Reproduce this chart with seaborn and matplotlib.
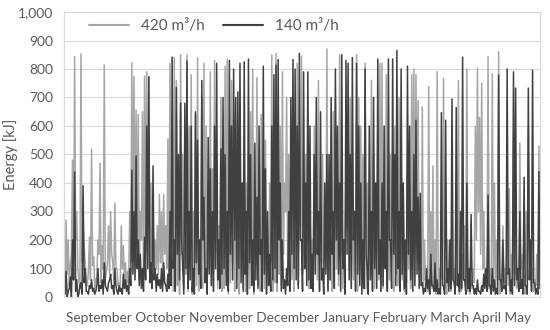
import matplotlib
matplotlib.use('Agg')
import matplotlib.pyplot as plt
import matplotlib.ticker as mticker
import numpy as np
import pandas as pd
import seaborn as sns

months = ['September', 'October', 'November', 'December', 'January',
          'February', 'March', 'April', 'May']

# energy [kJ]: 25 peaks and 25 troughs per month
peaks_420 = [
    60, 270, 200, 110, 480, 843, 300, 60, 853, 250, 120, 40, 210, 519, 140, 60, 200, 470, 180, 814, 90, 250, 300, 120, 330,
    100, 50, 250, 180, 120, 90, 300, 822, 775, 656, 640, 300, 650, 775, 790, 770, 400, 300, 200, 250, 360, 300, 360, 250, 555,
    820, 400, 840, 760, 300, 850, 500, 200, 850, 600, 780, 300, 640, 840, 200, 700, 820, 600, 300, 790, 450, 830, 500, 250, 700,
    300, 810, 835, 600, 760, 200, 450, 300, 680, 250, 500, 400, 200, 650, 800, 300, 770, 200, 640, 300, 550, 100, 400, 850, 200,
    855, 300, 600, 790, 400, 700, 500, 300, 200, 650, 820, 300, 845, 400, 500, 700, 300, 200, 600, 400, 760, 300, 500, 350, 870,
    300, 200, 650, 700, 400, 850, 300, 200, 500, 600, 700, 400, 300, 850, 700, 600, 500, 820, 400, 300, 760, 500, 350, 600, 820,
    820, 400, 780, 300, 500, 200, 600, 300, 700, 250, 400, 150, 500, 300, 780, 800, 780, 690, 300, 668, 200, 100, 738, 300, 460,
    200, 791, 100, 250, 767, 60, 200, 80, 300, 100, 200, 760, 80, 150, 250, 800, 100, 60, 100, 600, 803, 630, 750, 300, 100,
    843, 100, 783, 400, 200, 861, 80, 250, 100, 200, 380, 150, 560, 200, 80, 540, 150, 80, 300, 600, 200, 100, 60, 150, 530,
]
troughs_420 = [
    20, 80, 40, 150, 60, 200, 100, 30, 120, 180, 40, 90, 60, 110, 30, 70, 150, 50, 100, 60, 120, 80, 150, 60, 100,
    40, 20, 100, 60, 30, 50, 120, 200, 150, 100, 60, 200, 80, 150, 100, 90, 130, 60, 100, 80, 120, 60, 150, 100, 40,
    60, 20, 100, 40, 10, 150, 30, 80, 20, 60, 10, 120, 40, 20, 90, 30, 60, 10, 100, 40, 20, 150, 30, 60, 20,
    30, 80, 10, 50, 120, 20, 60, 10, 200, 40, 20, 100, 30, 60, 10, 150, 40, 20, 80, 30, 10, 60, 120, 20, 50,
    20, 80, 40, 150, 300, 100, 200, 60, 20, 100, 40, 250, 80, 150, 60, 30, 100, 40, 200, 60, 20, 120, 50, 100, 30,
    60, 20, 200, 100, 40, 150, 30, 80, 250, 100, 30, 60, 200, 20, 150, 40, 100, 30, 60, 250, 80, 30, 150, 60, 20,
    30, 100, 40, 60, 150, 20, 80, 40, 100, 60, 20, 50, 100, 30, 200, 150, 300, 100, 40, 30, 60, 20, 40, 30, 20,
    10, 40, 20, 60, 30, 10, 40, 20, 60, 30, 50, 10, 20, 60, 40, 20, 10, 30, 50, 200, 300, 150, 100, 40, 20,
    30, 10, 50, 20, 60, 10, 30, 50, 20, 40, 10, 60, 80, 30, 20, 100, 40, 10, 60, 200, 50, 20, 40, 10, 30,
]
peaks_140 = [
    30, 90, 20, 70, 200, 438, 60, 10, 50, 390, 100, 20, 40, 60, 30, 20, 100, 40, 60, 120, 30, 50, 80, 40, 100,
    20, 40, 30, 80, 60, 40, 100, 445, 300, 495, 200, 150, 100, 210, 600, 773, 120, 460, 100, 80, 60, 100, 120, 40, 80,
    300, 842, 200, 735, 500, 680, 100, 680, 828, 300, 600, 100, 650, 550, 200, 760, 350, 100, 560, 450, 300, 600, 820, 200, 520,
    700, 500, 300, 830, 600, 800, 700, 720, 820, 400, 825, 300, 835, 500, 200, 540, 350, 600, 200, 810, 450, 300, 150, 600, 780,
    814, 833, 400, 200, 60, 100, 300, 700, 833, 800, 600, 855, 200, 790, 400, 790, 600, 150, 500, 700, 300, 650, 100, 400, 500,
    500, 700, 300, 800, 600, 400, 850, 200, 830, 820, 500, 840, 300, 820, 600, 400, 200, 800, 100, 600, 300, 700, 400, 835, 200,
    400, 600, 300, 835, 200, 835, 500, 865, 300, 800, 400, 200, 810, 600, 300, 500, 620, 350, 364, 50, 30, 100, 60, 150, 40,
    120, 60, 30, 647, 40, 620, 100, 200, 695, 50, 665, 80, 300, 842, 60, 400, 100, 290, 40, 30, 60, 20, 40, 80, 100,
    358, 40, 100, 60, 30, 779, 60, 200, 40, 800, 100, 60, 790, 733, 100, 300, 60, 420, 40, 733, 200, 796, 50, 30, 440,
]
troughs_140 = [
    10, 0, 30, 0, 60, 20, 0, 40, 10, 50, 20, 10, 30, 20, 10, 40, 20, 30, 10, 40, 20, 60, 30, 10, 40,
    10, 20, 10, 30, 20, 10, 40, 80, 60, 100, 40, 30, 20, 60, 100, 50, 30, 60, 20, 40, 30, 20, 50, 20, 30,
    40, 100, 20, 150, 60, 200, 10, 100, 30, 60, 20, 10, 120, 80, 30, 200, 50, 10, 80, 40, 20, 100, 60, 30, 80,
    100, 40, 20, 150, 60, 200, 30, 100, 50, 20, 80, 10, 120, 40, 20, 60, 30, 150, 20, 80, 10, 40, 20, 60, 100,
    50, 200, 20, 30, 10, 40, 20, 150, 100, 60, 30, 200, 20, 100, 40, 60, 30, 20, 80, 150, 20, 60, 10, 80, 20,
    60, 150, 30, 200, 80, 20, 100, 10, 150, 60, 30, 200, 20, 80, 40, 10, 30, 150, 10, 60, 20, 100, 30, 80, 20,
    40, 100, 20, 200, 30, 150, 40, 100, 20, 80, 30, 10, 150, 60, 20, 40, 80, 30, 40, 10, 20, 30, 10, 40, 20,
    20, 10, 10, 40, 10, 50, 20, 30, 60, 10, 40, 20, 30, 60, 10, 30, 20, 40, 10, 10, 20, 10, 20, 30, 20,
    40, 10, 20, 10, 10, 60, 20, 30, 10, 80, 20, 10, 40, 60, 20, 30, 10, 40, 10, 60, 20, 50, 10, 10, 30,
]

series_names = ['420 m\u00b3/h', '140 m\u00b3/h']
colors = ['#a6a6a6', '#404040']


def interleave(peaks, troughs):
    out = np.empty(2 * len(peaks))
    out[0::2] = peaks
    out[1::2] = troughs
    return out


e_420 = interleave(peaks_420, troughs_420)
e_140 = interleave(peaks_140, troughs_140)

df = pd.concat([
    pd.DataFrame({'step': np.arange(len(e_420)), 'energy': e_420, 'series': series_names[0]}),
    pd.DataFrame({'step': np.arange(len(e_140)), 'energy': e_140, 'series': series_names[1]}),
])

sns.set_style('white')
plt.rcParams['font.family'] = ['Lato', 'DejaVu Sans']

fig = plt.figure(figsize=(5.5, 3.3), dpi=100)
ax = fig.add_axes([64 / 550, 1 - 297 / 330, 476 / 550, 285 / 330])

sns.lineplot(data=df, x='step', y='energy', hue='series', hue_order=series_names,
             palette=colors, linewidth=1.1, ax=ax, legend=False)

ax.set_xlim(0, len(e_420) - 1)
ax.set_ylim(0, 1000)
ax.yaxis.set_major_locator(mticker.MultipleLocator(100))
ax.yaxis.set_major_formatter(mticker.StrMethodFormatter('{x:,.0f}'))
ax.grid(axis='y', color='#d9d9d9', linewidth=0.8)
ax.set_axisbelow(True)
ax.set_xticks([])
ax.set_xlabel('')
ax.set_ylabel('Energy [kJ]', fontsize=10.5, color='#595959')
ax.yaxis.set_label_coords(-46 / 476, 0.5)
ax.tick_params(axis='y', labelsize=10, colors='#595959', length=0, pad=8)
for s in ax.spines.values():
    s.set_color('#d9d9d9')
    s.set_linewidth(0.8)

handles = [plt.Line2D([], [], color=c, lw=1.5) for c in colors]
fig.legend(handles, series_names, loc='center', bbox_to_anchor=(214 / 550, 1 - 26 / 330),
           ncol=2, frameon=False, fontsize=11, handlelength=2.6, columnspacing=1.2,
           labelcolor='#595959')

fig.text(298 / 550, 1 - 318 / 330, ' '.join(months), ha='center', va='center',
         fontsize=9.8, color='#595959')

fig.savefig('out.png', dpi=100)
